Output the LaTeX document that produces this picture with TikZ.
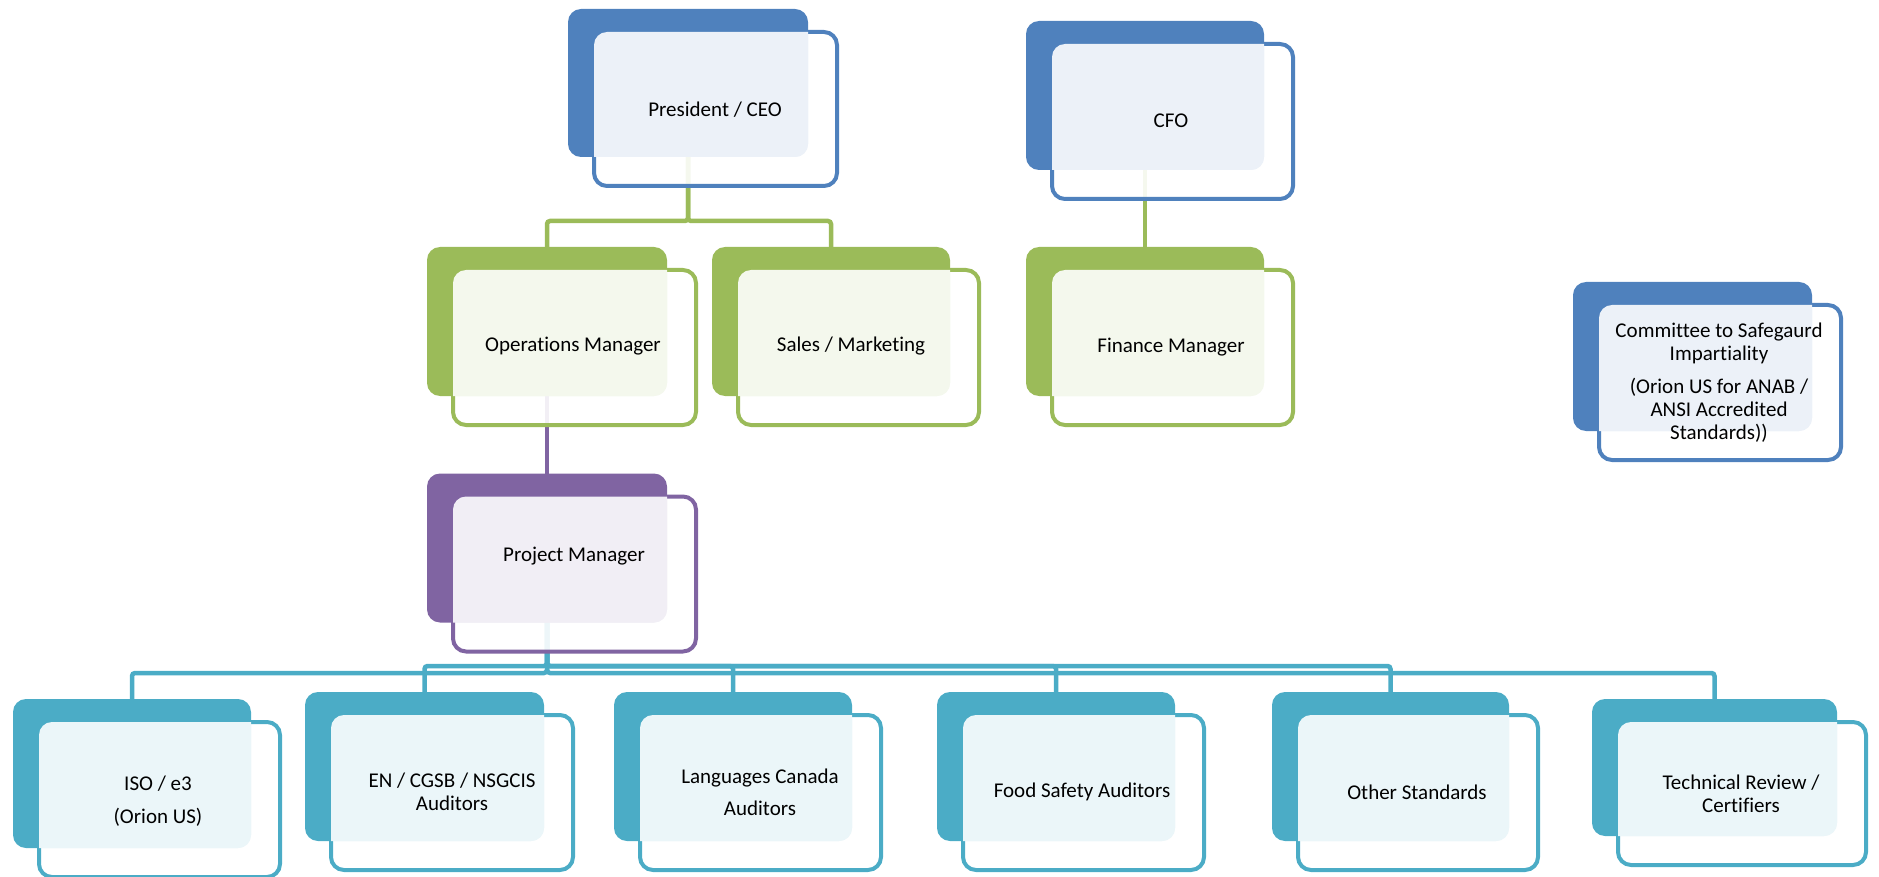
\documentclass[tikz,border=0pt]{standalone}
\usepackage{fontspec}
\setmainfont{Carlito}[Ligatures=NoCommon]
\usetikzlibrary{backgrounds}
\definecolor{cblue}{HTML}{4F81BD}
\definecolor{cgreen}{HTML}{9BBB59}
\definecolor{cpurple}{HTML}{8064A2}
\definecolor{cteal}{HTML}{4BACC6}
\tikzset{
  backbox/.style={rectangle, minimum width=240pt, minimum height=149pt, inner sep=0pt, outer sep=0pt},
  lbl/.style={font=\fontsize{21}{23}\selectfont, align=center, text=black, inner sep=0pt},
  conn/.style={line width=4.5pt, rounded corners=3pt},
}
\newcommand\orgbox[2]{%
  \fill[#2, rounded corners=13pt] (#1.north west) rectangle (#1.south east);
  \draw[#2, line width=4pt, fill=white, fill opacity=0.9, rounded corners=13pt]
    ([shift={(26pt,-23pt)}]#1.north west) rectangle ([shift={(29pt,-29pt)}]#1.south east);
  \begin{scope}
    \clip[rounded corners=13pt] (#1.north west) rectangle (#1.south east);
    \fill[#2!11, rounded corners=13pt]
      ([shift={(26pt,-23pt)}]#1.north west) rectangle ([shift={(29pt,-29pt)}]#1.south east);
  \end{scope}
}
\begin{document}
\begin{tikzpicture}[x=1pt,y=-1pt]
\useasboundingbox (0,0) rectangle (1879,877);
% box positions
\node[backbox, minimum height=148pt] (pres) at (688,83) {};
\node[backbox, minimum width=238pt] (cfo) at (1145,95.5) {};
\node[backbox] (ops) at (547,321.5) {};
\node[backbox, minimum width=238pt] (sales) at (831,321.5) {};
\node[backbox, minimum width=238pt] (fin) at (1145,321.5) {};
\node[backbox, minimum width=239pt] (comm) at (1692.5,356.5) {};
\node[backbox] (pm) at (547,548) {};
\node[backbox, minimum width=238pt] (iso) at (132,773.5) {};
\node[backbox, minimum width=239pt] (en) at (424.5,766.5) {};
\node[backbox, minimum width=238pt] (lang) at (733,766.5) {};
\node[backbox, minimum width=238pt] (food) at (1056,766.5) {};
\node[backbox, minimum width=237pt] (other) at (1390.5,766.5) {};
\node[backbox, minimum width=245pt, minimum height=137pt] (tech) at (1714.5,767.5) {};
% connectors
\begin{pgfonlayer}{background}
\draw[conn, cgreen] (pres.center) |- ([yshift=26pt]ops.north) -- (ops.north);
\draw[conn, cgreen] (pres.center) |- ([yshift=26pt]sales.north) -- (sales.north);
\draw[conn, cgreen] (cfo.center) -- (fin.north);
\draw[conn, cpurple] (ops.center) -- (pm.north);
\draw[conn, cteal] (pm.center) |- ([yshift=26pt]iso.north) -- (iso.north);
\draw[conn, cteal] (pm.center) |- ([yshift=26pt]en.north) -- (en.north);
\draw[conn, cteal] (pm.center) |- ([yshift=26pt]lang.north) -- (lang.north);
\draw[conn, cteal] (pm.center) |- ([yshift=26pt]food.north) -- (food.north);
\draw[conn, cteal] (pm.center) |- ([yshift=26pt]other.north) -- (other.north);
\draw[conn, cteal] (pm.center) |- ([yshift=26pt]tech.north) -- (tech.north);
\end{pgfonlayer}
% boxes
\orgbox{pres}{cblue}
\orgbox{cfo}{cblue}
\orgbox{ops}{cgreen}
\orgbox{sales}{cgreen}
\orgbox{fin}{cgreen}
\orgbox{comm}{cblue}
\orgbox{pm}{cpurple}
\orgbox{iso}{cteal}
\orgbox{en}{cteal}
\orgbox{lang}{cteal}
\orgbox{food}{cteal}
\orgbox{other}{cteal}
\orgbox{tech}{cteal}
% labels
\node[lbl] (pres-t) at (715,110) {President / CEO};
\node[lbl] (cfo-t) at (1171,121) {CFO};
\node[lbl] (ops-t) at (573,346) {Operations Manager};
\node[lbl] (sales-t) at (851,346) {Sales / Marketing};
\node[lbl] (fin-t) at (1171,347) {Finance Manager};
\node[lbl] (comm-t) at (1719,383) {Committee to Safegaurd\\Impartiality\\[10pt](Orion US for ANAB /\\ANSI Accredited\\Standards))};
\node[lbl] (pm-t) at (574,556) {Project Manager};
\node[lbl] (iso-t) at (158,801) {ISO / e3\\[10pt](Orion US)};
\node[lbl] (en-t) at (452,792) {EN / CGSB / NSGCIS\\Auditors};
\node[lbl] (lang-t) at (760,792) {Languages Canada\\[9pt]Auditors};
\node[lbl] (food-t) at (1082,792) {Food Safety Auditors};
\node[lbl] (other-t) at (1417,792) {Other Standards};
\node[lbl] (tech-t) at (1741,794) {Technical Review /\\Certifiers};
\end{tikzpicture}
\end{document}
